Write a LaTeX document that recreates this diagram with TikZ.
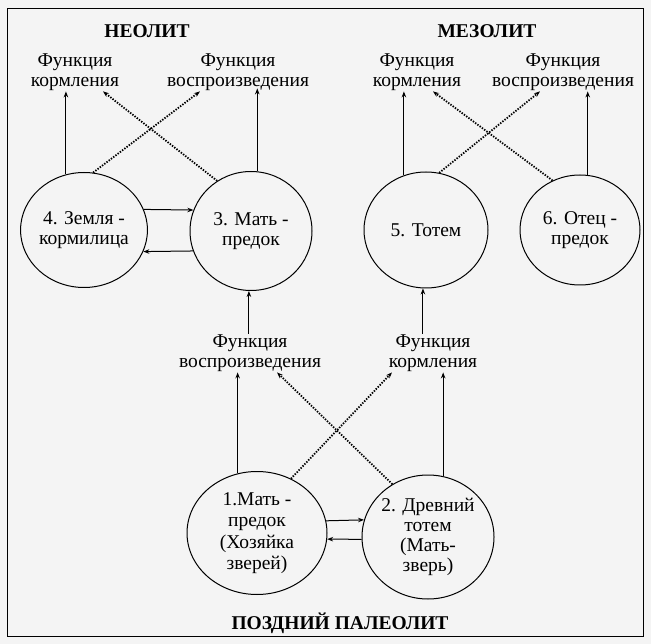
\documentclass[tikz,border=0pt]{standalone}
\usepackage{fontspec}
\setmainfont{Liberation Serif}
\usetikzlibrary{shapes.geometric,arrows.meta,calc}
\begin{document}
\begin{tikzpicture}[x=1pt,y=-1pt,
 txt/.style={font=\fontsize{19.5}{19.5}\selectfont, align=center, inner sep=1pt},
 ttl/.style={font=\fontsize{19.5}{20}\selectfont\bfseries, inner sep=0pt},
 circ/.style={draw, ellipse, line width=1pt, inner sep=0pt, font=\fontsize{19.5}{20}\selectfont, align=center},
 arr/.style={-{Stealth[length=6pt,width=4.5pt]}, line width=1pt},
 darr/.style={-{Stealth[length=6pt,width=4.5pt]}, line width=1.8pt, dash pattern=on 1.4pt off 1.4pt},
]
\useasboundingbox (0,0) rectangle (651,644);
\fill[gray!9] (0,0) rectangle (651,644);
\draw[line width=1pt] (7,9) rectangle (643,636);

% titles
\node[ttl] (t1) at (147,31) {НЕОЛИТ};
\node[ttl] (t2) at (487,31) {МЕЗОЛИТ};
\node[ttl] (t3) at (340,623) {ПОЗДНИЙ ПАЛЕОЛИТ};

% labels
\node[txt] (nk4) at (75,72) {Функция\\кормления};
\node[txt] (nv3) at (238,72) {Функция\\воспроизведения};
\node[txt] (nk5) at (417,72) {Функция\\кормления};
\node[txt] (nv6) at (563,72) {Функция\\воспроизведения};
\node[txt] (nvL) at (250,353) {Функция\\воспроизведения};
\node[txt] (nkL) at (433,353) {Функция\\кормления};

% circles
\node[circ, minimum width=116pt, minimum height=115pt] (c4) at (84,230) {4. Земля -\\кормилица};
\node[circ, minimum width=122pt, minimum height=119pt] (c3) at (251,231) {3. Мать -\\предок};
\node[circ, minimum width=124pt, minimum height=116pt] (c5) at (426,230) {5. Тотем};
\node[circ, minimum width=120pt, minimum height=110pt] (c6) at (580,230) {6. Отец -\\предок};
\node[circ, minimum width=140pt, minimum height=123pt, font=\fontsize{19.5}{21.5}\selectfont] (c1) at (257,533) {1.Мать -\\предок\\(Хозяйка\\зверей)};
\node[circ, minimum width=131pt, minimum height=124pt] (c2) at (428,537) {2. Древний\\тотем\\(Мать-\\зверь)};

% Neolithic
\draw[arr] (c4.108) -- (c4.108 |- nk4.south);
\draw[arr] (c3.84) -- ($(c3.84 |- nv3.south)+(0,-3)$);
\draw[darr] (c4.81) -- ($(nv3.south)+(-38,0)$);
\draw[darr] (c3.124) -- ($(nk4.south)+(28,0)$);
\draw[arr] (c4.19) -- (c3.160.5);
\draw[arr] (c3.-161) -- (c4.-20);

% Mesolithic
\draw[arr] (c5.112) -- (c5.112 |- nk5.south);
\draw[arr] (c6.82) -- (c6.82 |- nv6.south);
\draw[darr] (c5.77) -- ($(nv6.south)+(-23,0)$);
\draw[darr] (c6.119) -- ($(nk5.south)+(16,0)$);

% from late Palaeolithic upward
\draw[arr] (c3.-92 |- nvL.north) -- (c3.-92);
\draw[arr] (c5.-93 |- nkL.north) -- (c5.-93);

% Late Palaeolithic
\draw[arr] (c1.108) -- (c1.108 |- nvL.south);
\draw[arr] (c2.76) -- (c2.76 |- nkL.south);
\draw[darr] (c1.58.5) -- ($(nkL.south)+(-41,0)$);
\draw[darr] (c2.124) -- ($(nvL.south)+(27,0)$);
\draw[arr] (c1.10.8) -- (c2.165);
\draw[arr] (c2.-178) -- (c1.-5);
\end{tikzpicture}
\end{document}
